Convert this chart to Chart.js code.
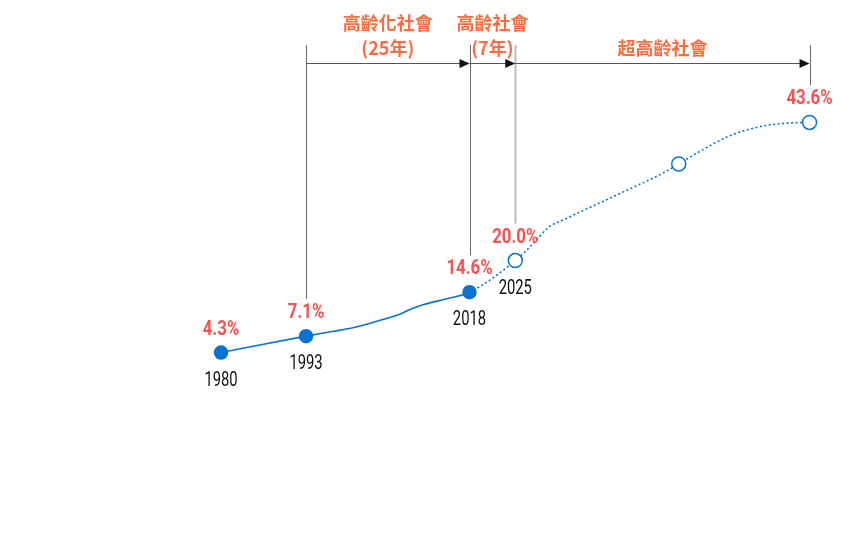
<!DOCTYPE html>
<html>
<head>
<meta charset="utf-8">
<script src="https://cdn.jsdelivr.net/npm/chart.js@4"></script>
<style>
  html, body { margin: 0; padding: 0; background: #fff; }
  #wrap { width: 854px; height: 554px; }
</style>
</head>
<body>
<div id="wrap"><canvas id="chart" width="854" height="554"></canvas></div>
<script>
// share of population aged 65+ (%), observed up to 2018, projected after
const years = [1980, 1993, 1997, 2000, 2004, 2007, 2009, 2011, 2015, 2018,
  2025, 2028, 2030, 2033, 2038, 2043, 2047, 2050, 2053, 2058, 2063, 2067, 2070];
const rates = [4.3, 7.1, 7.9, 8.5, 9.7, 10.7, 11.7, 12.5, 13.6, 14.6,
  20.0, 23.2, 25.6, 27.3, 29.9, 32.5, 34.6, 36.5, 38.5, 41.4, 43.0, 43.5, 43.6];

const markerYears = [1980, 1993, 2018, 2025, 2050, 2070];
const valueLabelYears = [1980, 1993, 2018, 2025, 2070];
const yearLabelYears = [1980, 1993, 2018, 2025];
const lastObserved = 2018;

// stage boundaries and names
const stageBounds = [1993, 2018, 2025, 2070];
const stageNames = [["高齡化社會", "(25年)"], ["高齡社會", "(7年)"], ["超高齡社會"]];

const BLUE = "#0b72d2";
const RED = "#f4514f";
const ORANGE = "#fb6d3f";
const NUM_FONT = "Roboto, 'DejaVu Sans', sans-serif";
const CJK_FONT = "'Noto Sans CJK TC', 'Noto Sans CJK JP', sans-serif";

function pointFor(chart, year) {
  return chart.getDatasetMeta(0).data[years.indexOf(year)];
}

// no condensed face installed, so squeeze the text horizontally
function narrowText(ctx, text, x, y, sx) {
  ctx.save();
  ctx.translate(x, y);
  ctx.scale(sx, 1);
  ctx.fillText(text, 0, 0);
  ctx.restore();
}

const annotations = {
  id: "annotations",
  afterDatasetsDraw(chart) {
    const ctx = chart.ctx;
    ctx.save();

    // vertical boundary lines
    stageBounds.forEach((yr) => {
      const p = pointFor(chart, yr);
      const light = yr === 2025;
      ctx.strokeStyle = light ? "#bdbdbd" : "#6a6a6a";
      ctx.lineWidth = light ? 2 : 1;
      ctx.beginPath();
      ctx.moveTo(Math.round(p.x) + 0.5, 45);
      ctx.lineTo(Math.round(p.x) + 0.5, p.y - 37);
      ctx.stroke();
    });

    // arrows + stage names
    const arrowY = 63.5;
    for (let i = 0; i < stageNames.length; i++) {
      const x0 = pointFor(chart, stageBounds[i]).x;
      const x1 = pointFor(chart, stageBounds[i + 1]).x;
      ctx.strokeStyle = "#555";
      ctx.lineWidth = 1;
      ctx.beginPath();
      ctx.moveTo(x0, arrowY);
      ctx.lineTo(x1 - 6, arrowY);
      ctx.stroke();
      ctx.fillStyle = "#111";
      ctx.beginPath();
      ctx.moveTo(x1, arrowY);
      ctx.lineTo(x1 - 10, arrowY - 4.5);
      ctx.lineTo(x1 - 10, arrowY + 4.5);
      ctx.closePath();
      ctx.fill();

      const cx = (x0 + x1) / 2;
      const lines = stageNames[i];
      ctx.fillStyle = ORANGE;
      ctx.textAlign = "center";
      ctx.textBaseline = "middle";
      ctx.font = "bold 18px " + CJK_FONT;
      lines.forEach((t, j) => {
        const y = lines.length === 1 ? 48 : 23 + j * 25;
        ctx.fillText(t, cx, y);
      });
    }

    // value labels
    ctx.textAlign = "center";
    ctx.textBaseline = "middle";
    ctx.fillStyle = RED;
    ctx.font = "bold 20px " + NUM_FONT;
    valueLabelYears.forEach((yr) => {
      const p = pointFor(chart, yr);
      narrowText(ctx, rates[years.indexOf(yr)].toFixed(1) + "%", p.x, p.y - 23, 0.84);
    });

    // year labels
    ctx.fillStyle = "#111";
    ctx.font = "20px " + NUM_FONT;
    yearLabelYears.forEach((yr) => {
      const p = pointFor(chart, yr);
      narrowText(ctx, String(yr), p.x, p.y + 28, 0.74);
    });

    ctx.restore();
  }
};

new Chart(document.getElementById("chart"), {
  type: "line",
  data: {
    datasets: [{
      data: years.map((x, i) => ({ x, y: rates[i] })),
      borderColor: BLUE,
      borderWidth: 1.6,
      cubicInterpolationMode: "monotone",
      clip: false,
      segment: {
        borderDash: (c) => (c.p0.parsed.x >= lastObserved ? [2, 2.5] : undefined)
      },
      pointRadius: (c) => {
        const yr = years[c.dataIndex];
        if (!markerYears.includes(yr)) return 0;
        return yr <= lastObserved ? 6.5 : 7;
      },
      pointHoverRadius: 0,
      pointBorderWidth: 1.5,
      pointBorderColor: BLUE,
      pointBackgroundColor: (c) => (years[c.dataIndex] <= lastObserved ? BLUE : "#fff")
    }]
  },
  options: {
    responsive: false,
    animation: false,
    layout: { padding: 0, autoPadding: false },
    scales: {
      x: { type: "linear", min: 1946.2, max: 2076.8, display: false },
      y: { min: -30.1, max: 64.5, display: false }
    },
    plugins: { legend: { display: false }, tooltip: { enabled: false } },
    events: []
  },
  plugins: [annotations]
});
</script>
</body>
</html>
